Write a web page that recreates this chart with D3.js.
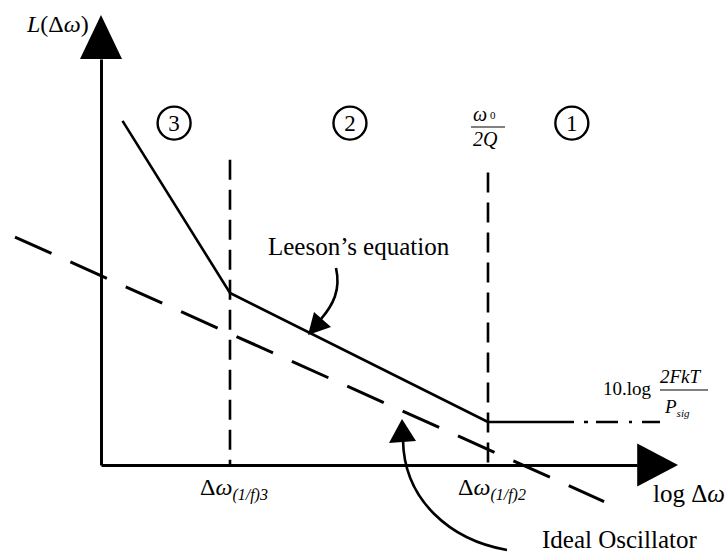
<!DOCTYPE html>
<html>
<head>
<meta charset="utf-8">
<script src="https://cdn.jsdelivr.net/npm/d3@7"></script>
<style>
  html, body { margin: 0; padding: 0; background: #fff; }
  svg { display: block; }
  text { font-family: "Liberation Serif", "Times New Roman", serif; fill: #000; }
</style>
</head>
<body>
<svg id="chart" width="728" height="554"></svg>
<script>
// Phase-noise regions of an oscillator (Leeson model), log-frequency offset vs L(Δω)

// Leeson's equation: 1/f³ region, 1/f² region, then the flat noise floor
const leesonX = [0.5, 3, 9];
const leesonY = [80, 40, 10];
// noise floor 10·log(2FkT/Psig)
const floorX = [9, 13];
const floorY = [10, 10];
// ideal oscillator: a single -20 dB/decade slope
const idealX = [-2, 11.7];
const idealY = [53, -8.5];
// corner frequencies
const cornerX = [3, 9];
const cornerTop = [71, 68];
const cornerLabels = ["3", "2"];
// region markers
const regionX = [1.7, 5.79, 10.95];
const regionY = [79.5, 79.5, 79.5];
const regionLabels = ["3", "2", "1"];
// axis extents
const xAxisEnd = 12.47, xArrowTip = 13.42;
const yAxisEnd = 94.4, yArrowTip = 104.65;

const svg = d3.select("#chart");
const x = d3.scaleLinear().domain([0, xAxisEnd]).range([101, 637.2]);
const y = d3.scaleLinear().domain([0, yAxisEnd]).range([465, 59]);

const line = d3.line().x(d => x(d[0])).y(d => y(d[1]));

// axes
const xAxis = d3.axisBottom(x).tickValues([]).tickSizeOuter(0);
const yAxis = d3.axisLeft(y).tickValues([]).tickSizeOuter(0);
svg.append("g").attr("transform", `translate(0,${y(0)})`).call(xAxis)
  .select(".domain").attr("stroke", "#000").attr("stroke-width", 3);
svg.append("g").attr("transform", `translate(${x(0)},0)`).call(yAxis)
  .select(".domain").attr("stroke", "#000").attr("stroke-width", 3);

// arrow heads
const xb = x(xAxisEnd), xt = x(xArrowTip), y0 = y(0);
svg.append("path").attr("d", `M${xt},${y0}L${xb},${y0 - 21.5}L${xb},${y0 + 21.5}Z`).attr("fill", "#000");
const yb = y(yAxisEnd), yt = y(yArrowTip), x0 = x(0);
svg.append("path").attr("d", `M${x0},${yt}L${x0 - 21},${yb}L${x0 + 21},${yb}Z`).attr("fill", "#000");

// corner frequency markers
cornerX.forEach((cx, i) => {
  svg.append("path").attr("d", line([[cx, cornerTop[i]], [cx, 0]]))
    .attr("fill", "none").attr("stroke", "#000").attr("stroke-width", 2.6)
    .attr("stroke-dasharray", "20,10");
});

// ideal oscillator
svg.append("path").attr("d", line(idealX.map((d, i) => [d, idealY[i]])))
  .attr("fill", "none").attr("stroke", "#000").attr("stroke-width", 3)
  .attr("stroke-dasharray", "40,20.7");

// Leeson's equation
svg.append("path").attr("d", line(leesonX.map((d, i) => [d, leesonY[i]])))
  .attr("fill", "none").attr("stroke", "#000").attr("stroke-width", 2.6)
  .attr("stroke-linejoin", "miter");

// noise floor: solid then dash-dot
svg.append("path").attr("d", line(floorX.map((d, i) => [d, floorY[i]])))
  .attr("fill", "none").attr("stroke", "#000").attr("stroke-width", 2.6)
  .attr("stroke-dasharray", "86,10,4,8,22,11,3,10,18");

// region markers
regionX.forEach((rx, i) => {
  const g = svg.append("g").attr("transform", `translate(${x(rx)},${y(regionY[i])})`);
  g.append("circle").attr("r", 16.5).attr("fill", "none").attr("stroke", "#000").attr("stroke-width", 2.4);
  g.append("text").attr("text-anchor", "middle").attr("y", 8).attr("font-size", 23).text(regionLabels[i]);
});

// axis titles
const yl = svg.append("text").attr("x", 27).attr("y", 32).attr("font-size", 24);
yl.append("tspan").attr("font-style", "italic").text("L");
yl.append("tspan").text("(Δ");
yl.append("tspan").attr("font-style", "italic").text("ω");
yl.append("tspan").text(")");

const xl = svg.append("text").attr("x", 653).attr("y", 502).attr("font-size", 25);
xl.append("tspan").text("log Δ");
xl.append("tspan").attr("font-style", "italic").text("ω");

// corner frequency labels
cornerX.forEach((cx, i) => {
  const t = svg.append("text").attr("x", x(cx) - 30).attr("y", 495).attr("font-size", 24);
  t.append("tspan").text("Δ");
  t.append("tspan").attr("font-style", "italic").text("ω");
  t.append("tspan").attr("font-style", "italic").attr("font-size", 16).attr("dy", 5).text("(1/f)" + cornerLabels[i]);
});

// ω0 / 2Q at the 1/f² corner
const wx = x(cornerX[1]) - 17;
const w = svg.append("text").attr("x", wx + 2).attr("y", 121).attr("font-size", 20);
w.append("tspan").attr("font-style", "italic").text("ω");
w.append("tspan").attr("font-size", 11).attr("dx", 3).attr("dy", -2).text("0");
svg.append("line").attr("x1", wx).attr("x2", wx + 34).attr("y1", 127).attr("y2", 127)
  .attr("stroke", "#000").attr("stroke-width", 1);
svg.append("text").attr("x", wx + 2).attr("y", 146).attr("font-size", 20).attr("font-style", "italic").text("2Q");

// noise floor expression
svg.append("text").attr("x", 603).attr("y", 395).attr("font-size", 19).text("10.log");
svg.append("text").attr("x", 660).attr("y", 383).attr("font-size", 19).attr("font-style", "italic").text("2FkT");
svg.append("line").attr("x1", 660).attr("x2", 708).attr("y1", 390).attr("y2", 390)
  .attr("stroke", "#000").attr("stroke-width", 1);
const p = svg.append("text").attr("x", 665).attr("y", 413).attr("font-size", 19).attr("font-style", "italic");
p.append("tspan").text("P");
p.append("tspan").attr("font-size", 11).attr("dy", 4).text("sig");

// callouts
svg.append("text").attr("x", 268).attr("y", 255).attr("font-size", 25).text("Leeson’s equation");
svg.append("path").attr("d", "M336,268C341,290 333,305 321,319")
  .attr("fill", "none").attr("stroke", "#000").attr("stroke-width", 2.6);
svg.append("path").attr("d", "M308,335L314,312L331,327Z").attr("fill", "#000");

svg.append("text").attr("x", 542).attr("y", 548).attr("font-size", 25).text("Ideal Oscillator");
svg.append("path").attr("d", "M403,440C404,500 450,540 507,550")
  .attr("fill", "none").attr("stroke", "#000").attr("stroke-width", 2.6);
svg.append("path").attr("d", "M402,419L389,443L416,441Z").attr("fill", "#000");
</script>
</body>
</html>
